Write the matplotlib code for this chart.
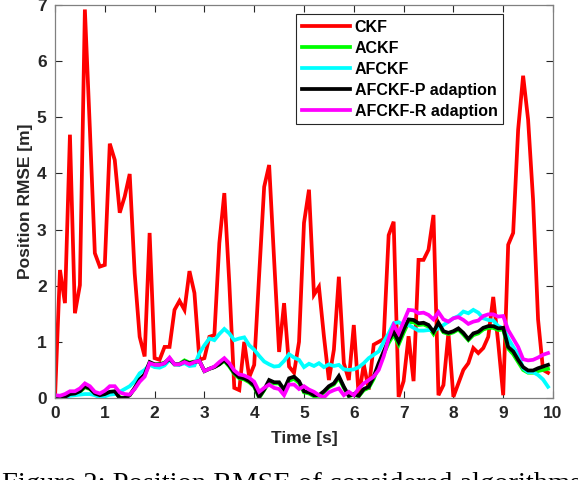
import numpy as np
import matplotlib
matplotlib.use("Agg")
import matplotlib.pyplot as plt

plt.rcParams["font.family"] = ["Liberation Sans", "DejaVu Sans"]

time_s = [round(0.1 * i, 1) for i in range(100)]

ckf = [0.0, 2.28, 1.69, 4.69, 1.51, 2.01, 6.92, 4.8, 2.58, 2.34,
       2.37, 4.53, 4.24, 3.30, 3.59, 3.99, 2.22, 1.09, 0.74, 2.94,
       0.71, 0.68, 0.91, 0.91, 1.57, 1.73, 1.57, 2.26, 1.87, 0.68,
       0.71, 1.09, 1.12, 2.76, 3.65, 2.05, 0.18, 0.14, 1.0, 0.37,
       0.59, 2.2, 3.76, 4.15, 2.46, 0.82, 1.69, 0.56, 0.45, 1.0,
       3.12, 3.71, 1.84, 1.98, 1.1, 0.32, 0.86, 2.16, 0.62, 0.32,
       1.3, 0.02, 0.6, 0.15, 0.95, 1.0, 1.05, 2.9, 3.14, 0.02,
       0.3, 1.1, 0.3, 2.46, 2.46, 2.64, 3.26, 0.05, 0.23, 1.16,
       0.02, 0.26, 0.5, 0.62, 0.89, 0.8, 0.89, 1.09, 1.8, 0.98,
       0.05, 2.73, 2.94, 4.78, 5.74, 4.96, 3.53, 1.4, 0.5, 0.45]

ackf = [0.02, 0.02, 0.02, 0.07, 0.08, 0.11, 0.19, 0.16, 0.08, 0.05,
        0.07, 0.1, 0.11, 0.01, 0.0, 0.05, 0.17, 0.32, 0.41, 0.62,
        0.59, 0.6, 0.63, 0.7, 0.6, 0.61, 0.67, 0.63, 0.65, 0.66,
        0.48, 0.52, 0.55, 0.6, 0.66, 0.56, 0.43, 0.35, 0.33, 0.28,
        0.2, 0.0, 0.14, 0.28, 0.26, 0.26, 0.13, 0.31, 0.34, 0.27,
        0.1, 0.08, 0.03, 0.04, 0.1, 0.19, 0.24, 0.36, 0.18, 0.03,
        0.06, 0.03, 0.14, 0.18, 0.34, 0.57, 0.78, 0.98, 1.13, 0.95,
        1.16, 1.35, 1.35, 1.3, 1.31, 1.27, 1.14, 1.3, 1.17, 1.14,
        1.17, 1.22, 1.13, 1.03, 1.12, 1.15, 1.22, 1.25, 1.25, 1.21,
        1.22, 0.88, 0.78, 0.64, 0.5, 0.45, 0.45, 0.48, 0.5, 0.52]

afckf = [0.02, 0.02, 0.02, 0.04, 0.05, 0.06, 0.07, 0.07, 0.05, 0.01,
         0.03, 0.06, 0.07, 0.11, 0.16, 0.21, 0.3, 0.44, 0.5, 0.59,
         0.55, 0.54, 0.58, 0.68, 0.6, 0.59, 0.62, 0.57, 0.58, 0.8,
         0.94, 1.06, 1.03, 1.14, 1.23, 1.15, 1.03, 1.06, 1.08, 0.94,
         0.86, 0.75, 0.65, 0.6, 0.56, 0.57, 0.66, 0.78, 0.72, 0.68,
         0.55, 0.61, 0.57, 0.62, 0.55, 0.6, 0.57, 0.59, 0.51, 0.5,
         0.51, 0.55, 0.62, 0.71, 0.77, 0.83, 1.0, 1.15, 1.33, 1.35,
         1.3, 1.3, 1.25, 1.2, 1.2, 1.21, 1.21, 1.24, 1.3, 1.36,
         1.42, 1.46, 1.54, 1.51, 1.57, 1.52, 1.42, 1.39, 1.38, 1.28,
         1.24, 1.06, 0.91, 0.77, 0.53, 0.46, 0.46, 0.41, 0.33, 0.2]

afckf_p = [0.02, 0.02, 0.02, 0.07, 0.08, 0.12, 0.21, 0.17, 0.08, 0.05,
           0.07, 0.11, 0.12, 0.0, 0.0, 0.05, 0.18, 0.33, 0.42, 0.64,
           0.6, 0.6, 0.62, 0.7, 0.6, 0.6, 0.65, 0.62, 0.64, 0.66,
           0.48, 0.52, 0.55, 0.6, 0.68, 0.58, 0.45, 0.37, 0.35, 0.3,
           0.22, 0.02, 0.15, 0.32, 0.28, 0.28, 0.15, 0.35, 0.38, 0.3,
           0.12, 0.1, 0.05, 0.05, 0.12, 0.21, 0.26, 0.39, 0.2, 0.04,
           0.07, 0.04, 0.16, 0.2, 0.38, 0.62, 0.83, 1.03, 1.18, 1.0,
           1.22, 1.4, 1.39, 1.33, 1.34, 1.3, 1.18, 1.34, 1.19, 1.16,
           1.19, 1.24, 1.16, 1.05, 1.15, 1.18, 1.25, 1.28, 1.28, 1.24,
           1.25, 0.91, 0.83, 0.68, 0.55, 0.49, 0.49, 0.53, 0.56, 0.59]

afckf_r = [0.05, 0.04, 0.07, 0.12, 0.12, 0.17, 0.26, 0.21, 0.11, 0.08,
           0.13, 0.21, 0.21, 0.1, 0.07, 0.06, 0.16, 0.29, 0.38, 0.62,
           0.59, 0.59, 0.62, 0.72, 0.6, 0.6, 0.64, 0.6, 0.64, 0.66,
           0.48, 0.52, 0.56, 0.64, 0.71, 0.62, 0.49, 0.42, 0.4, 0.36,
           0.29, 0.11, 0.18, 0.24, 0.18, 0.16, 0.05, 0.24, 0.24, 0.16,
           0.21, 0.15, 0.11, 0.05, 0.01, 0.1, 0.14, 0.17, 0.05, 0.11,
           0.05, 0.17, 0.26, 0.32, 0.38, 0.5, 0.74, 1.06, 1.3, 1.15,
           1.36, 1.57, 1.56, 1.51, 1.52, 1.48, 1.40, 1.53, 1.40, 1.36,
           1.42, 1.44, 1.39, 1.32, 1.36, 1.38, 1.46, 1.49, 1.49, 1.45,
           1.46, 1.21, 1.06, 0.91, 0.69, 0.67, 0.68, 0.72, 0.77, 0.8]

labels = ["CKF", "ACKF", "AFCKF", "AFCKF-P adaption", "AFCKF-R adaption"]
series = [ckf, ackf, afckf, afckf_p, afckf_r]
colors = ["#ff0000", "#00ff00", "#00ffff", "#000000", "#ff00ff"]

axis_col = "#262626"
fig = plt.figure(figsize=(5.78, 4.8), dpi=100)
ax = fig.add_axes([55/578, 1 - 398/480, 498/578, 393/480])

for y, c, lab in zip(series, colors, labels):
    ax.plot(time_s, y, color=c, lw=2.7, label=lab, solid_joinstyle="miter")

ax.set_xlim(0, 10)
ax.set_ylim(0, 7)
ax.set_xticks(range(0, 11))
ax.set_yticks(range(0, 8))
ax.tick_params(direction="in", top=True, right=True, length=5, width=0.8,
               colors=axis_col, labelsize=12.5, pad=6)
for lab in ax.get_xticklabels() + ax.get_yticklabels():
    lab.set_fontweight("bold")
for s in ax.spines.values():
    s.set_color("#808080")
    s.set_linewidth(0.9)

ax.set_xlabel("Time [s]", fontsize=12.5, fontweight="bold", color=axis_col, labelpad=7)
ax.set_ylabel("Position RMSE [m]", fontsize=12.5, fontweight="bold", color=axis_col, labelpad=3)

leg = ax.legend(loc="upper right", bbox_to_anchor=(0.90, 0.977), borderaxespad=0,
                fancybox=False, edgecolor="#262626", framealpha=1,
                prop={"weight": "bold", "size": 11.5}, handlelength=3.0,
                labelspacing=0.38, borderpad=0.35, handletextpad=0.3)
leg.get_frame().set_linewidth(0.8)

fig.text(0.003, -0.035, "Figure 2: Position RMSE of considered algorithms",
         family="Liberation Serif", fontsize=20.5, ha="left", va="bottom")

fig.savefig("out.png", dpi=100)
